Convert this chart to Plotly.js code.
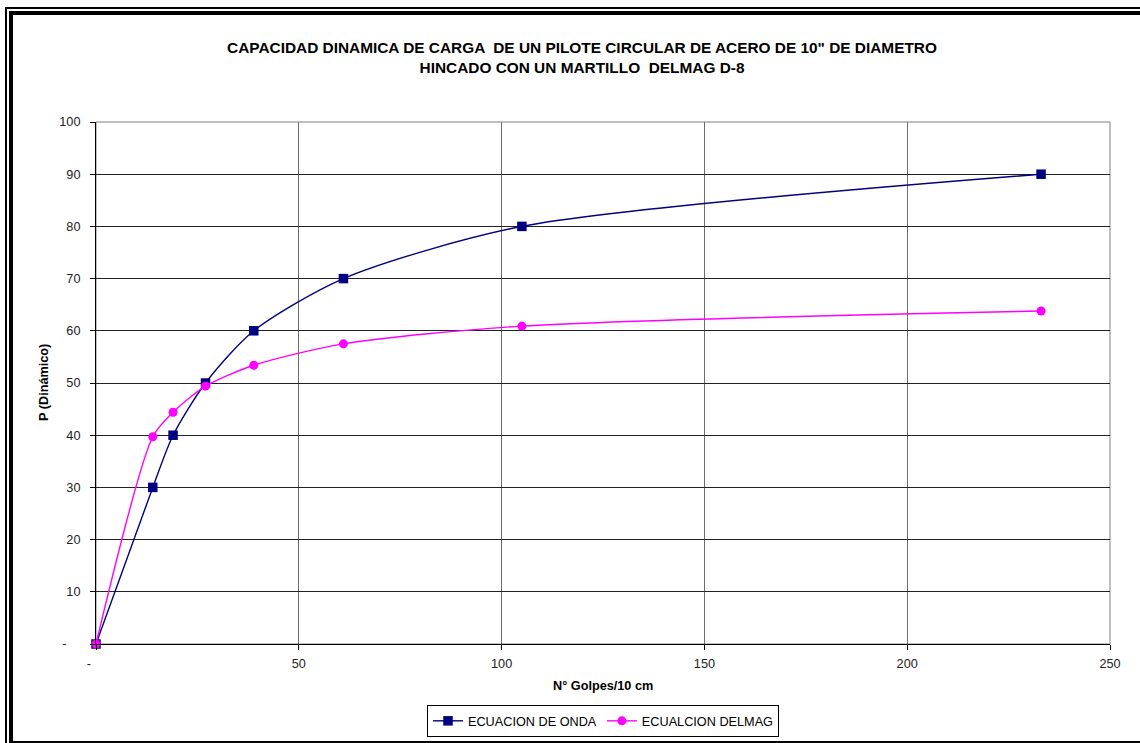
<!DOCTYPE html>
<html>
<head>
<meta charset="utf-8">
<script src="https://cdn.plot.ly/plotly-3.0.1.min.js"></script>
<style>
  html, body { margin: 0; padding: 0; background: #fff; }
  #wrap { position: relative; width: 1140px; height: 743px; }
  #chart { position: absolute; left: 0; top: 0; width: 1140px; height: 743px; }
  .ln { position: absolute; background: #000; pointer-events: none; }
</style>
</head>
<body>
<div id="wrap">
  <div id="chart"></div>
  <div class="ln" style="left:5px; top:7px; width:1135px; height:2px;"></div>
  <div class="ln" style="left:9px; top:11px; width:1131px; height:4px;"></div>
  <div class="ln" style="left:5px; top:7px; width:2px; height:736px;"></div>
  <div class="ln" style="left:9px; top:11px; width:4px; height:732px;"></div>
  <div class="ln" style="left:9px; top:741px; width:1131px; height:2px;"></div>
</div>
<script>
const golpes = [0, 14, 19, 27, 38.9, 61, 105, 233];
const ecuacionOnda = [0, 30, 40, 50, 60, 70, 80, 90];
const ecuacionDelmag = [0, 39.7, 44.4, 49.4, 53.4, 57.5, 60.9, 63.8];

const xTickVals = [0, 50, 100, 150, 200, 250];
const xTickText = ['-\u00a0\u00a0\u00a0\u00a0', '50', '100', '150', '200', '250'];
const yTickVals = [0, 10, 20, 30, 40, 50, 60, 70, 80, 90, 100];
const yTickText = ['-\u00a0\u00a0\u00a0\u00a0', '10', '20', '30', '40', '50', '60', '70', '80', '90', '100'];

const FONT = 'Liberation Sans, Arial, sans-serif';
const FS = 12.7;

const traces = [
  {
    x: golpes, y: ecuacionOnda, name: 'ECUACION DE ONDA',
    type: 'scatter', mode: 'lines+markers', cliponaxis: false,
    line: { color: '#000080', width: 1.4, shape: 'spline', smoothing: 0.75 },
    marker: { symbol: 'square', size: 9.5, color: '#000080' }
  },
  {
    x: golpes, y: ecuacionDelmag, name: 'ECUALCION DELMAG',
    type: 'scatter', mode: 'lines+markers', cliponaxis: false,
    line: { color: '#FF00FF', width: 1.4, shape: 'spline', smoothing: 0.75 },
    marker: { symbol: 'circle', size: 9, color: '#FF00FF' }
  }
];

const layout = {
  width: 1140, height: 743,
  margin: { l: 96, r: 30, t: 122, b: 99, autoexpand: false },
  paper_bgcolor: '#fff', plot_bgcolor: '#fff',
  font: { family: FONT, size: FS, color: '#000' },
  title: {
    text: 'CAPACIDAD DINAMICA DE CARGA  DE UN PILOTE CIRCULAR DE ACERO DE 10" DE DIAMETRO<br>HINCADO CON UN MARTILLO  DELMAG D-8',
    font: { family: FONT, size: 15.4, color: '#000', weight: 'bold' },
    x: 582 / 1140, xref: 'container', xanchor: 'center',
    y: 1 - 53 / 743, yref: 'container', yanchor: 'middle'
  },
  xaxis: {
    range: [0, 250], tickvals: xTickVals, ticktext: xTickText,
    showgrid: true, gridcolor: '#6e6e6e', gridwidth: 1,
    showline: true, linecolor: '#000', linewidth: 1, mirror: false,
    ticks: 'outside', ticklen: 5, tickcolor: '#000', ticklabelstandoff: 3,
    zeroline: false, fixedrange: true, automargin: false,
    tickfont: { family: FONT, size: FS, color: '#222' }
  },
  yaxis: {
    range: [0, 100], tickvals: yTickVals, ticktext: yTickText,
    showgrid: true, gridcolor: '#222', gridwidth: 1,
    showline: true, linecolor: '#000', linewidth: 1, mirror: false,
    ticks: 'outside', ticklen: 5, tickcolor: '#000', ticklabelstandoff: 7,
    zeroline: false, fixedrange: true, automargin: false,
    tickfont: { family: FONT, size: FS, color: '#222' }
  },
  annotations: [
    { text: 'N° Golpes/10 cm', xref: 'paper', yref: 'paper', x: 0.5, y: (644 - 686) / 522,
      xanchor: 'center', yanchor: 'middle', showarrow: false,
      font: { family: FONT, size: FS, color: '#000', weight: 'bold' } },
    { text: 'P (Dinámico)', xref: 'paper', yref: 'paper', x: (44 - 96) / 1014, y: 0.5,
      xanchor: 'center', yanchor: 'middle', showarrow: false, textangle: -90,
      font: { family: FONT, size: FS, color: '#000', weight: 'bold' } }
  ],
  shapes: [
    { type: 'rect', xref: 'paper', yref: 'paper', x0: 0, x1: 1, y0: 0, y1: 1,
      line: { color: '#808080', width: 1 }, layer: 'below' }
  ],
  showlegend: true,
  legend: {
    orientation: 'h', x: 0.5, xanchor: 'center', y: -0.117, yanchor: 'top',
    bordercolor: '#000', borderwidth: 1, bgcolor: '#fff',
    font: { family: FONT, size: FS, color: '#000' },
    itemwidth: 30, tracegroupgap: 0
  }
};

Plotly.newPlot('chart', traces, layout, { displayModeBar: false, staticPlot: true });
</script>
</body>
</html>
